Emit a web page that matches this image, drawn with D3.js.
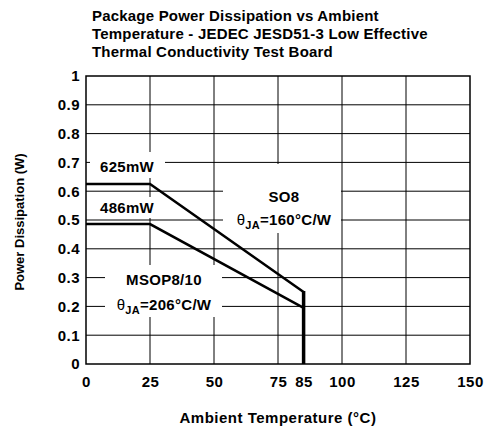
<!DOCTYPE html>
<html>
<head>
<meta charset="utf-8">
<script src="https://cdn.jsdelivr.net/npm/d3@7"></script>
<style>
  body { margin: 0; background: #fff; }
  text { font-family: "Liberation Sans", Arial, sans-serif; font-weight: bold; fill: #000; }
</style>
</head>
<body>
<svg id="chart"></svg>
<script>
const width = 488;
const height = 430;

// data
const titleLines = [
  'Package Power Dissipation vs Ambient',
  'Temperature - JEDEC JESD51-3 Low Effective',
  'Thermal Conductivity Test Board'
];
const xTicks = [0, 25, 50, 75, 85, 100, 125, 150];
const xGrid = [25, 50, 75, 100, 125];
const yTicks = [0, 0.1, 0.2, 0.3, 0.4, 0.5, 0.6, 0.7, 0.8, 0.9, 1];
const so8Temp = [0, 25, 85];
const so8Power = [0.625, 0.625, 0.25];
const msopTemp = [0, 25, 85];
const msopPower = [0.486, 0.486, 0.195];
const cutoffTemp = 85;

const margin = { top: 76, right: 18, bottom: 66, left: 86 };
const fontFam = '"Liberation Sans", Arial, sans-serif';

const svg = d3.select('#chart')
  .attr('width', width)
  .attr('height', height);

const x = d3.scaleLinear()
  .domain([0, 150])
  .range([margin.left, width - margin.right]);

const y = d3.scaleLinear()
  .domain([0, 1])
  .range([height - margin.bottom, margin.top]);

// title
svg.append('g')
  .selectAll('text')
  .data(titleLines)
  .enter()
  .append('text')
  .attr('x', 92)
  .attr('y', (d, i) => 21 + i * 18)
  .style('font-size', '15px')
  .style('letter-spacing', '0.2px')
  .text(d => d);

// grid
const grid = svg.append('g').attr('stroke', '#000').attr('stroke-width', 1);
grid.selectAll('.vgrid')
  .data(xGrid)
  .enter()
  .append('line')
  .attr('x1', d => x(d)).attr('x2', d => x(d))
  .attr('y1', y(0)).attr('y2', y(1));
grid.selectAll('.hgrid')
  .data(yTicks.slice(1, -1))
  .enter()
  .append('line')
  .attr('x1', x(0)).attr('x2', x(150))
  .attr('y1', d => y(d)).attr('y2', d => y(d));

// axes labels
const yAxis = d3.axisLeft(y)
  .tickValues(yTicks)
  .tickFormat(d3.format('~g'))
  .tickSize(0)
  .tickPadding(6);
svg.append('g')
  .attr('transform', `translate(${x(0)},0)`)
  .call(yAxis)
  .call(g => g.select('.domain').remove())
  .selectAll('text')
  .style('font-size', '15px')
  .style('letter-spacing', '0.5px')
  .style('font-family', fontFam)
  .style('font-weight', 'bold');

const xAxis = d3.axisBottom(x)
  .tickValues(xTicks)
  .tickFormat(d3.format('d'))
  .tickSize(0)
  .tickPadding(12);
svg.append('g')
  .attr('transform', `translate(0,${y(0)})`)
  .call(xAxis)
  .call(g => g.select('.domain').remove())
  .selectAll('text')
  .style('font-size', '15px')
  .style('letter-spacing', '0.5px')
  .style('font-family', fontFam)
  .style('font-weight', 'bold');

// label boxes (blank out grid behind text)
const boxes = [
  [90, 152, 75, 26],
  [90, 197, 75, 21],
  [223, 164, 118, 69],
  [105, 265, 117, 52]
];
svg.append('g')
  .selectAll('rect')
  .data(boxes)
  .enter()
  .append('rect')
  .attr('x', d => d[0]).attr('y', d => d[1])
  .attr('width', d => d[2]).attr('height', d => d[3])
  .attr('fill', '#fff');

// plot frame
svg.append('rect')
  .attr('x', x(0)).attr('y', y(1))
  .attr('width', x(150) - x(0))
  .attr('height', y(0) - y(1))
  .attr('fill', 'none')
  .attr('stroke', '#000')
  .attr('stroke-width', 1.5);

// derating curves
const line = d3.line()
  .x(d => x(d[0]))
  .y(d => y(d[1]));

svg.append('path')
  .datum(so8Temp.map((t, i) => [t, so8Power[i]]))
  .attr('d', line)
  .attr('fill', 'none')
  .attr('stroke', '#000')
  .attr('stroke-width', 2.5);

svg.append('path')
  .datum(msopTemp.map((t, i) => [t, msopPower[i]]))
  .attr('d', line)
  .attr('fill', 'none')
  .attr('stroke', '#000')
  .attr('stroke-width', 2.5);

svg.append('line')
  .attr('x1', x(cutoffTemp)).attr('x2', x(cutoffTemp))
  .attr('y1', y(so8Power[2]) - 1).attr('y2', y(0))
  .attr('stroke', '#000')
  .attr('stroke-width', 3.5);

// annotations
const ann = svg.append('g').style('font-size', '15px').style('letter-spacing', '0.3px');
ann.append('text').attr('x', 127).attr('y', 172).attr('text-anchor', 'middle').text('625mW');
ann.append('text').attr('x', 127).attr('y', 213).attr('text-anchor', 'middle').text('486mW');
ann.append('text').attr('x', 284).attr('y', 202).attr('text-anchor', 'middle').text('SO8');
ann.append('text').attr('x', 164).attr('y', 285).attr('text-anchor', 'middle').text('MSOP8/10');

function theta(xc, yb, val) {
  const t = ann.append('text').attr('x', xc).attr('y', yb).attr('text-anchor', 'middle');
  t.append('tspan').style('font-weight', 'normal').text('θ');
  t.append('tspan').attr('dy', 4).style('font-size', '11px').text('JA');
  t.append('tspan').attr('dy', -4).text('=' + val + '°C/W');
}
theta(284, 225, 160);
theta(164, 310, 206);

// axis titles
svg.append('text')
  .attr('x', (x(0) + x(150)) / 2)
  .attr('y', 423)
  .attr('text-anchor', 'middle')
  .style('font-size', '15px')
  .style('letter-spacing', '0.5px')
  .text('Ambient Temperature (°C)');

svg.append('text')
  .attr('transform', `translate(24,${(y(0) + y(1)) / 2 + 2}) rotate(-90)`)
  .attr('text-anchor', 'middle')
  .style('font-size', '13px')
  .text('Power Dissipation (W)');
</script>
</body>
</html>
